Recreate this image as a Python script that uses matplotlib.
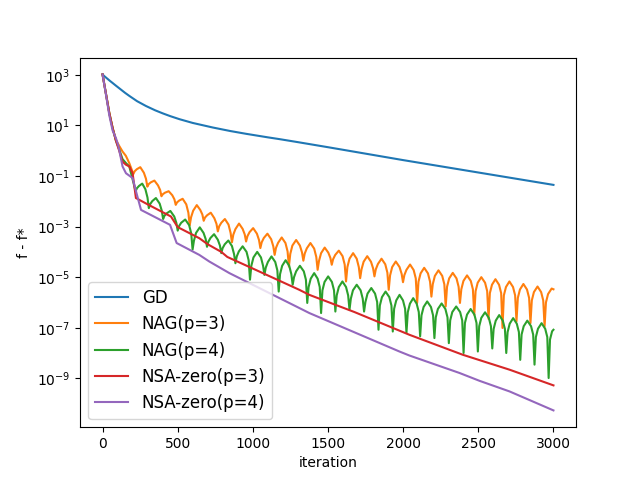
import numpy as np
import matplotlib
matplotlib.use('Agg')
import matplotlib.pyplot as plt

# values, stored as log10(f - f*)
gd_iter = [0, 10, 30, 50, 67, 90, 120, 150, 178, 230, 289, 350, 400, 450, 511, 600,
           733, 850, 955, 1100, 1177, 1300, 1510, 2000, 2500, 3000]
gd_log = [3.02, 2.96, 2.86, 2.76, 2.68, 2.57, 2.43, 2.29, 2.17, 1.96, 1.77, 1.6, 1.48, 1.37, 1.25, 1.1,
          0.92, 0.78, 0.67, 0.53, 0.46, 0.34, 0.13, -0.37, -0.86, -1.35]

# NAG(p=3): start, then one row per arch (trough ... peak ... back down)
nag3_iter = [0, 22, 45, 67, 89, 111, 133, 155, 178,
             205, 214, 228, 251, 275, 289,
             298, 307, 321, 345, 369, 383,
             392, 401, 415, 440, 464, 478,
             487, 496, 510, 533, 557, 571,
             580, 589, 603, 627, 650, 664,
             673, 682, 696, 720, 744, 758,
             767, 776, 790, 814, 838, 852,
             861, 870, 884, 908, 932, 946,
             955, 964, 978, 1002, 1027, 1041,
             1050, 1059, 1073, 1097, 1122, 1136,
             1145, 1154, 1168, 1192, 1217, 1231,
             1240, 1249, 1263, 1288, 1313, 1327,
             1336, 1345, 1359, 1383, 1408, 1422,
             1431, 1440, 1454, 1478, 1502, 1516,
             1525, 1534, 1548, 1572, 1597, 1611,
             1620, 1629, 1643, 1667, 1691, 1705,
             1714, 1723, 1737, 1761, 1786, 1800,
             1809, 1818, 1832, 1856, 1881, 1895,
             1904, 1913, 1927, 1951, 1976, 1990,
             1999, 2008, 2022, 2046, 2070, 2084,
             2093, 2102, 2116, 2140, 2165, 2179,
             2188, 2197, 2211, 2235, 2260, 2274,
             2283, 2292, 2306, 2330, 2355, 2369,
             2378, 2387, 2401, 2425, 2450, 2464,
             2473, 2482, 2496, 2520, 2545, 2559,
             2568, 2577, 2591, 2614, 2638, 2652,
             2661, 2670, 2684, 2707, 2731, 2745,
             2754, 2763, 2777, 2800, 2824, 2838,
             2847, 2856, 2870, 2894, 2918, 2932,
             2941, 2950, 2964, 2988, 3000]
nag3_log = [3.02, 2.28, 1.49, 0.9, 0.43, 0.19, -0.03, -0.2, -0.49,
            -0.92, -0.81, -0.73, -0.65, -0.87, -1.11,
            -1.42, -1.32, -1.25, -1.18, -1.37, -1.55,
            -1.80, -1.72, -1.66, -1.60, -1.76, -1.92,
            -2.14, -2.04, -1.97, -1.90, -2.12, -2.45,
            -2.95, -2.63, -2.37, -2.15, -2.34, -2.52,
            -2.77, -2.64, -2.55, -2.45, -2.67, -2.89,
            -3.19, -2.99, -2.85, -2.70, -2.92, -3.25,
            -3.62, -3.32, -3.10, -2.88, -3.09, -3.31,
            -3.59, -3.38, -3.22, -3.06, -3.28, -3.53,
            -3.85, -3.62, -3.45, -3.28, -3.50, -3.78,
            -4.12, -3.84, -3.64, -3.43, -3.65, -3.98,
            -4.58, -4.08, -3.75, -3.53, -3.75, -4.02,
            -4.35, -4.07, -3.86, -3.65, -3.87, -4.20,
            -4.71, -4.36, -4.05, -3.83, -4.03, -4.24,
            -4.51, -4.29, -4.12, -3.95, -4.17, -4.50,
            -5.17, -4.60, -4.27, -4.05, -4.27, -4.60,
            -5.04, -4.69, -4.39, -4.17, -4.39, -4.65,
            -4.97, -4.69, -4.48, -4.27, -4.49, -4.82,
            -5.50, -4.93, -4.60, -4.38, -4.60, -4.87,
            -5.20, -4.92, -4.71, -4.50, -4.72, -5.05,
            -6.02, -5.18, -4.85, -4.63, -4.85, -5.18,
            -5.77, -5.28, -4.95, -4.73, -4.95, -5.28,
            -6.16, -5.38, -5.05, -4.83, -5.05, -5.38,
            -6.02, -5.48, -5.15, -4.93, -5.15, -5.48,
            -6.49, -5.55, -5.22, -5.00, -5.22, -5.55,
            -6.65, -5.63, -5.30, -5.08, -5.30, -5.63,
            -7.01, -5.72, -5.39, -5.17, -5.39, -5.72,
            -6.75, -5.82, -5.49, -5.27, -5.49, -5.82,
            -6.82, -5.92, -5.59, -5.37, -5.59, -5.92,
            -6.95, -6.00, -5.67, -5.45, -5.48]

# NAG(p=4)
nag4_iter = [0, 22, 45, 67, 89, 111, 133, 156, 178,
             220, 229, 243, 264, 285, 299,
             308, 317, 331, 355, 380, 394,
             403, 412, 426, 451, 477, 491,
             500, 509, 523, 550, 576, 590,
             599, 608, 622, 647, 672, 686,
             695, 704, 718, 742, 767, 781,
             790, 799, 813, 837, 861, 875,
             884, 893, 907, 932, 958, 972,
             981, 990, 1004, 1029, 1054, 1068,
             1077, 1086, 1100, 1124, 1149, 1163,
             1172, 1181, 1195, 1218, 1242, 1256,
             1265, 1274, 1288, 1313, 1339, 1353,
             1362, 1371, 1385, 1408, 1431, 1445,
             1454, 1463, 1477, 1501, 1526, 1540,
             1549, 1558, 1572, 1596, 1620, 1634,
             1643, 1652, 1666, 1691, 1717, 1731,
             1740, 1749, 1763, 1788, 1813, 1827,
             1836, 1845, 1859, 1883, 1908, 1922,
             1931, 1940, 1954, 1976, 1999, 2013,
             2022, 2031, 2045, 2067, 2090, 2104,
             2113, 2122, 2136, 2160, 2185, 2199,
             2208, 2217, 2231, 2256, 2281, 2295,
             2304, 2313, 2327, 2353, 2379, 2393,
             2402, 2411, 2425, 2449, 2474, 2488,
             2497, 2506, 2520, 2545, 2570, 2584,
             2593, 2602, 2616, 2639, 2663, 2677,
             2686, 2695, 2709, 2732, 2756, 2770,
             2779, 2788, 2802, 2826, 2851, 2865,
             2874, 2883, 2897, 2921, 2945, 2959,
             2968, 2977, 2991, 3000]
nag4_log = [3.02, 2.28, 1.49, 0.9, 0.4, 0.05, -0.33, -0.49, -0.62,
            -1.60, -1.48, -1.39, -1.30, -1.52, -1.85,
            -2.27, -2.11, -1.99, -1.87, -2.09, -2.37,
            -2.70, -2.57, -2.48, -2.38, -2.60, -2.85,
            -3.16, -2.98, -2.85, -2.72, -2.94, -3.27,
            -3.91, -3.56, -3.25, -3.03, -3.25, -3.49,
            -3.80, -3.60, -3.45, -3.30, -3.52, -3.75,
            -4.05, -3.85, -3.70, -3.55, -3.77, -4.09,
            -4.45, -4.18, -3.98, -3.78, -4.00, -4.33,
            -5.10, -4.55, -4.22, -4.00, -4.22, -4.55,
            -4.91, -4.62, -4.40, -4.18, -4.40, -4.73,
            -5.57, -4.88, -4.55, -4.33, -4.55, -4.88,
            -5.30, -5.00, -4.77, -4.55, -4.77, -5.10,
            -6.02, -5.39, -5.06, -4.84, -5.06, -5.39,
            -6.42, -5.52, -5.19, -4.97, -5.19, -5.52,
            -6.36, -5.72, -5.39, -5.17, -5.39, -5.72,
            -6.29, -5.85, -5.52, -5.30, -5.52, -5.85,
            -6.36, -5.98, -5.65, -5.43, -5.65, -5.98,
            -7.08, -6.12, -5.79, -5.57, -5.79, -6.12,
            -7.15, -6.25, -5.92, -5.70, -5.92, -6.25,
            -7.20, -6.38, -6.05, -5.83, -6.05, -6.38,
            -7.34, -6.51, -6.18, -5.96, -6.18, -6.51,
            -7.41, -6.59, -6.26, -6.04, -6.26, -6.59,
            -7.61, -6.71, -6.38, -6.16, -6.38, -6.71,
            -8.00, -6.81, -6.48, -6.26, -6.48, -6.81,
            -7.94, -6.94, -6.61, -6.39, -6.61, -6.94,
            -7.82, -7.05, -6.72, -6.50, -6.72, -7.05,
            -8.00, -7.17, -6.84, -6.62, -6.84, -7.17,
            -8.27, -7.27, -6.94, -6.72, -6.94, -7.27,
            -8.46, -7.37, -7.04, -6.82, -7.04, -7.37,
            -8.99, -7.47, -7.14, -7.08]

nsa3_iter = [0, 22, 45, 67, 89, 111, 133, 155, 178, 200, 222, 300, 400, 455, 500,
             644, 700, 790, 830, 1000, 1309, 1376, 1676, 2042, 2397, 2708, 3000]
nsa3_log = [3.02, 2.28, 1.49, 0.9, 0.4, 0.0, -0.43, -0.55, -0.62, -0.89, -1.87, -2.12, -2.43, -2.6, -3.02,
            -3.46, -3.7, -4.0, -4.2, -4.66, -5.5, -5.7, -6.38, -7.28, -8.07, -8.66, -9.28]

nsa4_iter = [0, 22, 45, 67, 89, 105, 133, 156, 200, 226, 256, 449, 493,
             644, 710, 844, 1309, 1376, 1975, 2042, 2375, 2508, 2708, 3000]
nsa4_log = [3.02, 2.25, 1.4, 0.8, 0.5, 0.2, -0.62, -0.89, -1.08, -1.68, -2.34, -2.93, -3.65,
            -4.12, -4.38, -4.84, -6.22, -6.42, -7.94, -8.1, -8.79, -9.1, -9.52, -10.27]

series = [
    ('GD', gd_iter, gd_log),
    ('NAG(p=3)', nag3_iter, nag3_log),
    ('NAG(p=4)', nag4_iter, nag4_log),
    ('NSA-zero(p=3)', nsa3_iter, nsa3_log),
    ('NSA-zero(p=4)', nsa4_iter, nsa4_log),
]

fig, ax = plt.subplots(figsize=(6.4, 4.8), dpi=100)
for name, it, lg in series:
    ax.plot(it, 10 ** np.array(lg), label=name)

ax.set_yscale('log')
ax.set_xlabel('iteration')
ax.set_ylabel('f - f*')
ax.legend(loc='lower left', fontsize=12)

fig.savefig('out.png')
